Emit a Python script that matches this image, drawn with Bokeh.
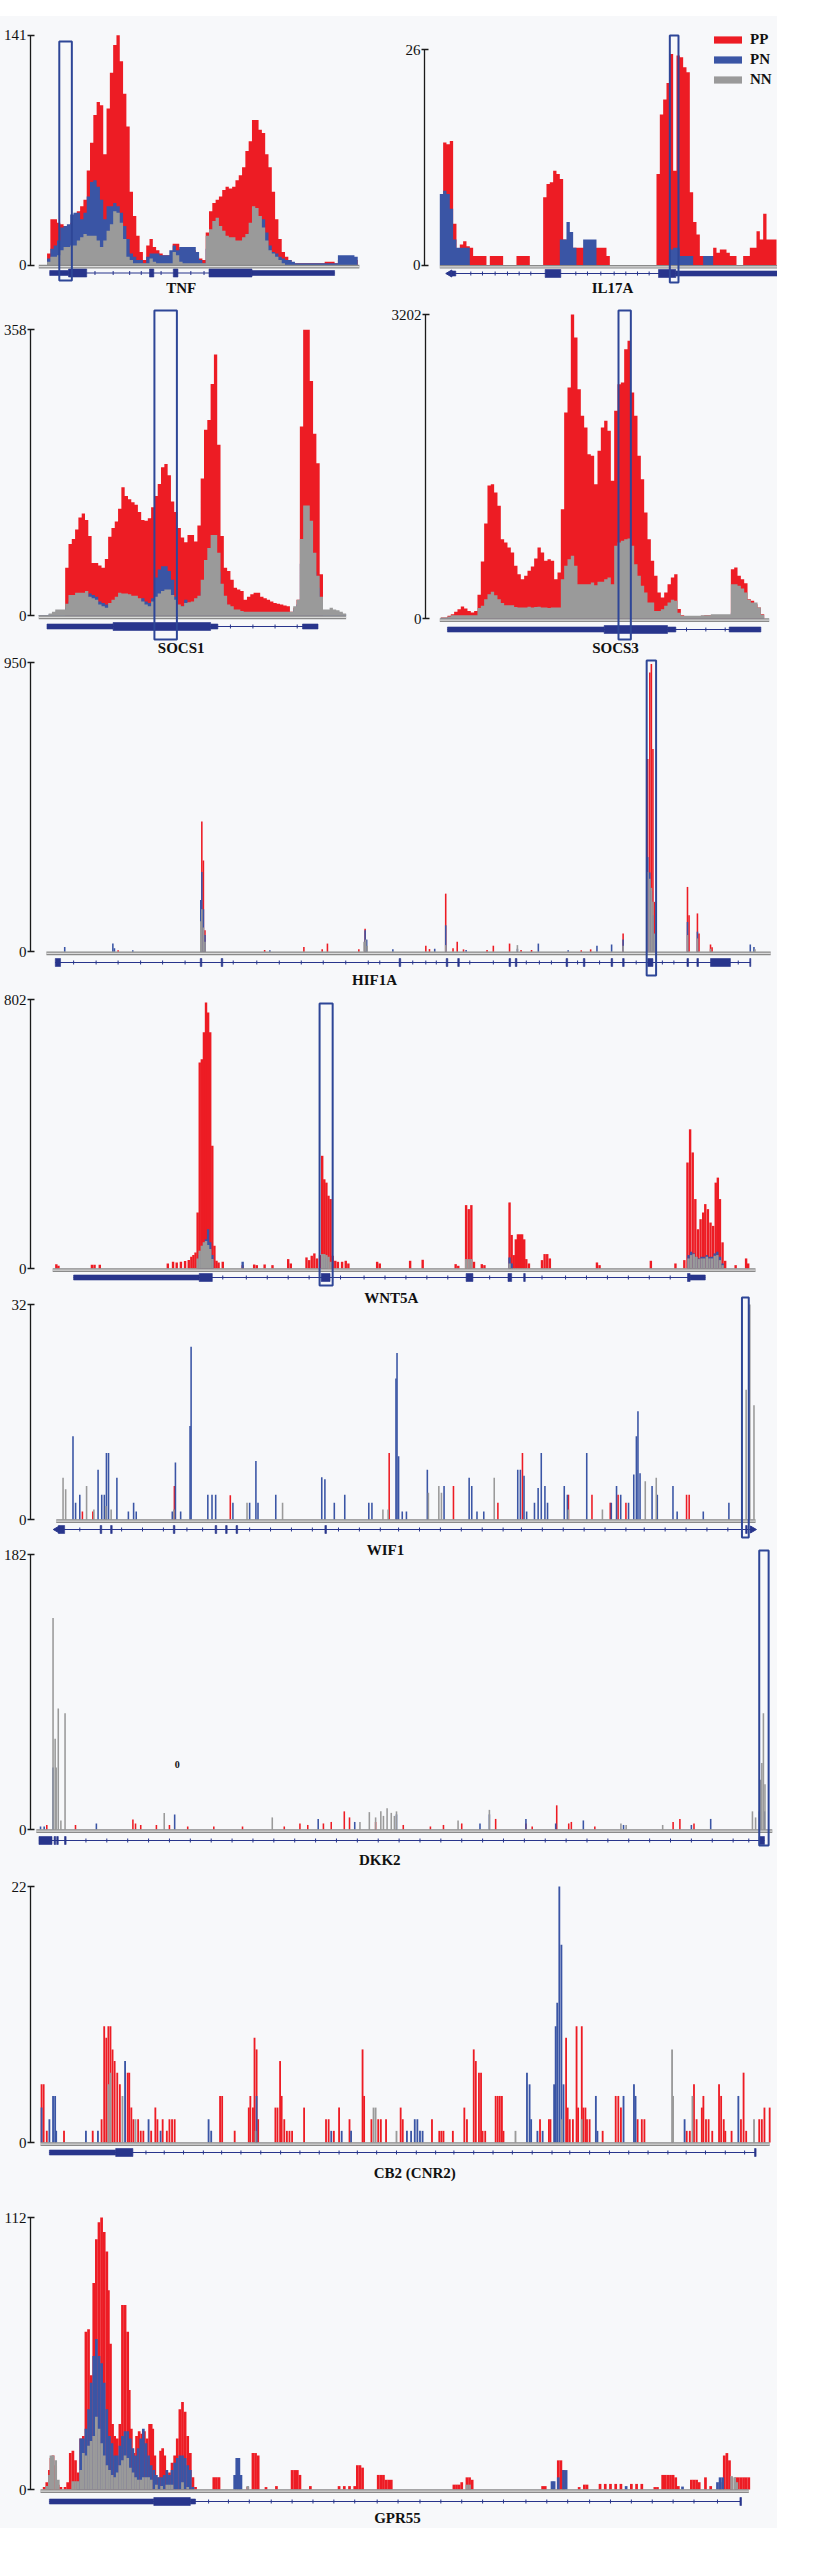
import numpy as np
from bokeh.plotting import figure
from bokeh.models import Range1d, FixedTicker, Legend, LegendItem, Spacer
from bokeh.layouts import column, row
from bokeh.core.properties import value
from bokeh.embed import file_html
from bokeh.resources import INLINE

RED = "#ed1c24"
BLUE = "#3a55a5"
GRAY = "#9a9a9a"
GENE = "#28358c"
BOXC = "#2e4697"
BG = "#f7f8fa"
FONT = "Liberation Serif"

SERIES = ["PP", "PN", "NN"]
GENES = ["TNF", "IL17A", "SOCS1", "SOCS3", "HIF1A", "WNT5A", "WIF1", "DKK2", "CB2 (CNR2)", "GPR55"]
AXIS_MAX = [141, 26, 358, 3202, 950, 802, 32, 182, 22, 112]

# ---------------- binned coverage (top panels) ----------------
TNF_PP = [7,28,28,26,25,24,24,26,30,33, 36,40,58,75,92,100,98,68,96,118, 135,141,125,105,85,45,30,18,8,3,
          12,16,11,9,7,6,6,6,13,13, 10,9,9,9,9,5,4,3,20,33, 38,40,42,46,48,47,48,52,55,60,
          70,76,89,89,83,81,68,60,45,28, 16,8,5,3,1,1,1,1,1,1, 1,1,1,1,2,2,2,1,3,3, 3,3,3,3]
TNF_PN = [4,10,12,15,23,24,25,31,32,32, 28,32,42,51,52,48,40,28,36,36, 38,36,32,24,16,7,5,3,3,1,
          5,7,7,7,6,6,6,9,12,9, 11,11,11,11,11,8,3,1,10,14, 18,20,18,16,14,13,13,12,12,13,
          15,20,28,30,30,28,20,12,8,7, 5,4,3,3,2,1,1,1,1,1, 1,1,1,1,1,1,1,1,6,6, 6,6,6,5]
TNF_NN = [2,5,5,6,9,11,11,12,12,15, 17,19,18,18,18,15,11,15,21,25, 33,32,26,16,5,3,1,1,1,1,
          1,4,2,1,1,1,1,1,8,6, 2,1,1,1,1,1,1,1,18,22, 27,29,24,21,18,17,17,15,15,17,
          19,26,36,35,30,23,15,9,7,5, 3,1,0,0,0,0,0,0,0,0, 0,0,0,0,0,0,0,0,0,0, 0,0,0,0]

IL17A_PP = [0,14.8,14.6,15.0,5,1.9,2.5,2.9,2.3,2.1, 1.1,1.1,1.1,1.1,0,1.1,1.1,1.1,1.1,0,
            0,0,0,1.1,1.1,1.1,1.1,0,0,0, 0,8.2,9.8,10.0,11.4,11.0,10.4,3.1,2.1,2.1,
            2.1,2.1,2.1,2.1,2.1,2.1,2.1,2.1,2.1,2.1, 1.1,0,0,0,0,0,0,0,0,0,
            0,0,0,0,0,11.0,18.2,20.0,22.0,25.5, 11.4,25.3,25.1,23.9,23.3,8.8,5.2,3.7,1.1,1.1,
            1.1,1.1,2.1,1.5,1.9,1.9,1.5,1.1,1.1,0, 0,1.1,1.1,2.1,2.1,4.1,3.1,6.2,3.1,3.1, 3.1]
IL17A_PN = [8.6,9.0,8.6,6.8,3.1,2.1,2.1,2.1,2.1,0, 0,0,0,0,0,0,0,0,0,0,
            0,0,0,0,0,0,0,0,0,0, 0,0,0,0,0,0,3.1,3.1,5.2,4.0,
            2.1,0,0,3.1,3.1,3.1,3.1,0,0,0, 0,0,0,0,0,0,0,0,0,0,
            0,0,0,0,0,0,0,0,0,1.9, 2.1,2.1,1.1,1.1,1.1,1.1,0,0,0,1.1,
            1.1,1.1,0,0,0,0,0,0,0,0, 0,0,0,0,0,0,0,0,0,0, 0]
IL17A_NN = [0] * 101  # no NN coverage anywhere in this window

SOCS1_PP = [0,0,0,0,0,0,0,0,60,90, 96,108,123,128,120,100,66,66,63,60, 71,99,110,118,134,161,150,146,142,139,
            130,120,119,122,136,150,165,186,190,176, 143,130,110,98,92,101,101,93,113,172,
            233,245,290,327,214,100,60,56,45,35, 33,31,20,24,27,29,29,24,22,20,
            18,16,15,14,13,12,5,10,20,237, 358,358,294,228,191,52,0,0,0,0, 0,0,0]
SOCS1_PN = [1,1,1,2,3,5,5,5,10,18, 18,20,20,20,24,28,26,24,18,16, 14,12,14,17,20,20,20,19,18,18,
            16,22,18,16,22,48,58,62,62,56, 45,24,10,12,20,12,13,15,18,30,
            50,60,70,70,55,28,18,10,8,6, 6,4,3,3,3,3,3,3,3,3,
            3,3,3,3,3,3,3,8,14,65, 95,95,80,55,35,17,5,5,7,5, 5,3,2]
SOCS1_NN = [1,1,1,3,5,8,8,8,15,26, 26,29,29,29,31,24,22,20,14,12, 10,16,20,24,29,28,28,27,25,25,
            22,18,14,12,18,24,28,31,33,33, 26,20,14,12,16,17,18,22,25,45,
            70,85,101,101,79,40,25,14,12,8, 8,6,5,5,5,5,5,5,5,5,
            5,5,5,5,5,5,5,12,20,96, 138,138,119,79,50,24,8,8,10,8, 7,5,3]

SOCS3_PP = [10,10,30,46,70,98,126,105,80,63, 80,250,600,1000,1400,1415,1327,1187,836,800,
            748,695,555,467,414,450,502,548,632,748, 695,607,625,607,414,485,1152,2170,2433,3202,
            2960,2415,2135,2012,1731,1713,1415,1766,2012,2082, 1977,1450,2187,2468,2486,2837,2925,2380,2135,1713,
            1468,1117,836,607,449,274,221,274,362,432, 467,100,35,21,21,21,21,21,28,35,
            35,30,28,28,28,28,28,520,537,449, 414,372,204,186,151,116,46]
SOCS3_PN = [5,5,10,15,15,15,15,15,15,15, 15,30,40,50,60,60,55,50,45,40,
            40,40,35,35,35,35,35,35,35,35, 35,35,35,35,35,35,60,80,90,90,
            80,60,55,55,55,55,55,55,60,60, 60,55,80,90,90,90,90,80,70,55,
            45,35,25,25,15,15,15,20,25,25, 25,10,8,8,8,8,8,8,8,8,
            8,10,10,10,10,10,10,60,60,55, 50,45,35,30,30,20,8]
SOCS3_NN = [10,10,20,35,35,35,35,35,35,35, 35,110,133,204,256,281,246,204,162,140,
            140,140,120,116,116,116,125,116,120,125, 116,116,110,116,116,116,414,555,625,660,
            555,362,362,362,362,379,351,386,386,414, 432,362,765,800,818,836,843,765,572,449,
            344,274,169,169,80,80,98,133,169,197, 186,60,28,28,28,28,28,28,35,35,
            35,46,46,46,46,46,46,362,362,344, 316,274,197,169,169,116,40]

# ---------------- (position, value) coverage (full-width panels) ----------------
HIF1A_PP = [(240,5),(400,428),(403,300),(406,71),(520,6),(595,16),(630,8),(640,27),(700,8),(712,76),
            (828,20),(835,9),(866,191),(880,12),(888,33),(900,8),(945,6),(957,20),(988,27),(1010,6),
            (1030,6),(1125,5),(1143,8),(1205,60),(1252,633),(1256,917),(1259,945),(1262,666),(1265,164),
            (1328,213),(1331,120),(1347,126),(1350,60),(1372,24),(1375,15)]
HIF1A_PN = [(138,16),(230,27),(233,12),(268,5),(398,170),(400,262),(403,140),(406,55),(530,5),(712,71),
            (715,40),(765,8),(845,10),(866,87),(905,6),(1003,10),(1043,27),(1100,5),(1155,20),(1183,24),
            (1205,40),(1252,311),(1256,260),(1259,200),(1262,120),(1328,98),(1347,66),(1448,24),(1455,16)]
HIF1A_NN = [(398,100),(400,140),(403,80),(406,33),(710,33),(713,40),(716,20),(866,22),(1003,22),(1205,20),
            (1252,262),(1256,240),(1259,210),(1262,164),(1265,60),(1328,55),(1347,44),(1372,10),(1457,8)]

WNT5A_PP = [(122,13),(126,8),(190,11),(195,11),(205,11),(335,15),(345,20),(352,18),(360,20),(368,22),
            (375,25),(380,35),(384,40),(388,48),(392,167),(396,614),(400,624),(404,704),(408,793),(412,763),
            (416,704),(420,366),(424,68),(428,23),(432,18),(440,20),(478,10),(500,12),(505,10),(520,12),
            (535,10),(565,28),(570,15),(600,33),(605,25),(610,38),(615,45),(620,30),(626,40),(630,336),
            (634,266),(638,256),(642,217),(646,207),(650,38),(655,23),(660,20),(668,20),(675,23),(680,15),
            (735,20),(740,15),(798,23),(822,26),(885,13),(890,8),(905,189),(910,177),(915,189),(920,20),
            (935,13),(940,10),(988,197),(992,100),(996,40),(1000,87),(1004,102),(1008,102),(1012,102),(1016,87),
            (1020,28),(1025,15),(1050,25),(1055,43),(1060,43),(1065,30),(1155,18),(1160,10),(1258,23),(1305,15),
            (1322,25),(1328,316),(1333,415),(1338,346),(1343,207),(1348,117),(1353,147),(1358,167),(1362,192),
            (1367,177),(1372,137),(1377,127),(1382,256),(1386,271),(1390,207),(1395,78),(1400,23),(1420,10),
            (1440,30),(1444,15)]
WNT5A_PN = [(396,40),(400,50),(404,70),(408,87),(412,117),(416,78),(420,40),(478,20),(630,35),(634,30),
            (638,30),(988,33),(992,15),(1330,40),(1335,50),(1340,45),(1345,35),(1350,30),(1355,35),(1360,35),
            (1365,40),(1370,35),(1375,35),(1380,45),(1385,50),(1390,35),(1395,15)]
WNT5A_NN = [(392,30),(396,53),(400,68),(404,78),(408,82),(412,70),(416,58),(420,28),(630,43),(634,43),
            (638,40),(642,35),(646,20),(905,28),(910,28),(915,28),(988,15),(1330,30),(1335,40),(1340,43),
            (1345,35),(1350,28),(1355,30),(1360,30),(1365,35),(1370,30),(1375,30),(1380,38),(1385,40),
            (1390,25),(1395,10)]

WIF1_PP = [(170,1.2),(190,1.2),(346,5.0),(453,3.6),(757,9.9),(880,5.0),(965,2.5),(1012,9.9),(1100,3.7),
           (1145,3.7),(1180,2.5),(1195,3.7),(1210,2.5),(1326,3.7),(1331,3.7)]
WIF1_PN = [(152,12.4),(157,2.5),(165,3.7),(200,7.4),(207,3.7),(212,3.7),(216,9.9),(220,9.9),(236,6.2),
           (258,1.2),(268,2.5),(273,1.2),(342,1.2),(348,8.5),(358,1.2),(376,13.9),(378,25.7),(410,3.7),
           (418,3.7),(425,3.7),(458,2.5),(490,2.5),(502,8.7),(506,2.5),(540,3.7),(628,6.3),(634,6.0),
           (652,2.5),(672,3.7),(718,2.5),(724,2.5),(770,21.0),(772,24.8),(775,9.4),(782,1.2),(790,1.2),
           (830,7.4),(862,5.0),(910,6.2),(915,5.0),(925,1.2),(938,1.2),(1003,7.4),(1008,7.4),(1015,6.5),
           (1020,1.2),(1035,2.5),(1042,4.7),(1048,9.9),(1055,5.0),(1060,2.5),(1092,5.0),(1098,3.7),
           (1135,9.9),(1182,2.5),(1192,5.0),(1200,3.7),(1215,2.5),(1225,6.7),(1230,12.4),(1233,16.1),
           (1237,6.9),(1260,5.0),(1270,3.7),(1300,5.0),(1308,1.2),(1358,1.2),(1407,2.5)]
WIF1_NN = [(133,6.2),(138,4.5),(178,5.0),(192,1.5),(215,2.0),(225,1.5),(345,1.5),(485,2.5),(553,2.5),
           (745,1.5),(755,1.5),(832,4.0),(852,5.0),(857,4.0),(958,6.2),(1100,1.5),(1165,1.5),(1247,5.7),
           (1268,6.2),(1440,19.3),(1447,32.0),(1455,17.0)]

DKK2_PP = [(100,3),(155,3),(265,6.6),(270,4),(280,3),(310,3),(335,3),(370,2),(420,2),(475,2),(555,2),
           (585,4),(600,3),(630,4),(645,5),(670,12),(680,8),(730,5),(783,3),(835,2),(860,3),(895,4),
           (960,7),(1018,4),(1030,2),(1077,16),(1100,4),(1105,5),(1150,2),(1300,5),(1313,7),(1340,4)]
DKK2_PN = [(88,2),(95,2),(112,41),(195,4),(345,10),(620,7),(690,5),(770,10),(930,4),(948,10),(1018,7),
           (1075,4),(1128,6),(1205,3),(1335,3),(1372,7),(1475,12)]
DKK2_NN = [(112,140),(116,60),(118,41),(122,80),(127,6),(135,77),(325,11),(532,8),(700,5),(718,11.5),
           (730,8),(740,12),(745,9),(752,14),(760,11),(766,9),(770,12),(888,6),(948,13),(1200,4),(1210,3),
           (1280,3),(1452,12),(1458,8),(1465,12),(1468,33),(1470,44),(1473,77),(1476,30)]
DKK2_NOTE = (350, 43, "0")

CB2_PP = [(90,5),(94,5),(100,1),(133,1),(188,1),(205,2),(210,10),(214,9),(218,10),(222,10),(226,8),(230,7),
          (235,6),(240,5),(255,6),(258,6),(262,3),(266,2),(275,2),(280,1),(285,1),(300,1),(308,3),(312,2),
          (322,2),(330,1),(335,2),(340,2),(345,2),(432,4),(436,4),(460,1),(487,3),(490,4),(495,3),(498,9),
          (502,8),(505,2),(538,3),(542,3),(547,7),(550,4),(555,2),(560,1),(565,1),(570,1),(593,3),(635,2),
          (640,2),(650,1),(660,3),(680,2),(705,8),(708,4),(722,2),(735,2),(740,2),(750,2),(778,3),(782,2),
          (838,2),(852,1),(856,1),(860,1),(878,1),(900,3),(905,2),(918,8),(922,7),(928,6),(932,6),(935,1),
          (940,1),(960,4),(964,4),(968,4),(972,4),(975,1),(1045,2),(1062,2),(1065,2),(1095,9),(1098,3),
          (1102,2),(1108,2),(1115,10),(1118,3),(1125,10),(1128,3),(1132,3),(1135,2),(1140,2),(1165,1),
          (1190,4),(1195,4),(1200,3),(1232,2),(1240,2),(1245,2),(1326,1),(1332,1),(1340,5),(1345,2),
          (1355,3),(1358,4),(1363,2),(1368,2),(1375,1),(1388,5),(1392,4),(1397,2),(1400,1),(1412,1),
          (1430,2),(1435,6),(1440,1),(1465,2),(1470,2),(1475,3),(1485,3)]
CB2_PN = [(90,3),(105,2),(112,4),(116,4),(118,1),(175,1),(198,1),(250,7),(295,2),(318,1),(410,2),(415,1),
          (502,4),(645,1),(665,1),(683,1),(790,1),(798,1),(805,2),(810,2),(815,1),(820,1),(1020,6),(1025,5),
          (1028,2),(1040,1),(1050,1),(1072,5),(1075,10),(1078,12),(1082,22),(1086,17),(1090,5),(1152,4),
          (1155,1),(1205,4),(1225,5),(1228,4),(1322,2),(1425,4)]
CB2_NN = [(218,5),(222,6),(245,4),(270,2),(500,1),(726,3),(730,3),(770,1),(998,1),(1087,2),(1125,2),
          (1298,8),(1300,4),(1337,4),(1455,2)]

GPR55_PP = [(95,1),(100,3),(105,8),(108,13),(112,14),(117,10),(122,2),(127,1),(135,1),(140,3),(145,15),
            (150,16),(155,12),(160,7),(165,21),(170,22),(175,65),(180,66),(185,47),(190,85),(195,103),
            (200,110),(205,112),(210,106),(215,98),(218,82),(222,60),(226,27),(230,22),(235,21),(240,27),
            (245,76),(250,76),(255,65),(258,41),(262,25),(267,15),(272,22),(277,24),(282,23),(287,24),
            (292,21),(297,27),(300,27),(303,25),(307,14),(312,5),(318,16),(322,17),(326,14),(330,6),(335,7),
            (340,11),(345,14),(350,21),(355,33),(360,36),(365,32),(370,22),(375,15),(380,5),(385,1),
            (420,5),(425,5),(430,5),(485,1),(495,15),(500,15),(505,14),(520,1),(540,1.4),(570,8),(575,8),
            (580,8),(585,6),(605,1.4),(660,1.4),(670,1.4),(680,1.4),(690,1.4),(695,10),(700,10),(705,9),
            (735,6),(740,6),(745,6),(750,4),(755,4),(760,4),(880,2),(885,2),(890,2),(895,3),(905,5),(910,5),
            (915,4),(1050,1.4),(1055,1.4),(1080,12),(1085,12),(1090,8),(1120,1),(1130,2),(1135,2),(1160,2.3),
            (1170,2.3),(1180,2.3),(1190,2.3),(1200,2.3),(1220,2.3),(1230,2.3),(1240,2.3),(1265,1),(1270,1),
            (1280,6),(1285,6),(1290,6),(1295,6),(1300,6),(1305,5),(1310,1.4),(1335,4),(1340,4),(1345,4),
            (1350,3),(1362,5),(1372,1.4),(1390,3),(1398,14),(1403,15),(1408,12),(1412,5),(1420,5),(1425,5),
            (1430,5),(1435,5),(1440,5),(1445,5)]
GPR55_PN = [(160,3),(165,21),(170,21),(175,25),(180,33),(185,44),(190,55),(195,62),(200,55),(205,52),
            (210,44),(215,33),(220,22),(225,19),(230,14),(235,14),(240,18),(245,22),(250,24),(255,24),
            (260,21),(265,17),(270,14),(275,17),(280,21),(285,25),(290,19),(295,14),(300,10),(305,8),
            (310,6),(315,5),(320,5),(325,6),(330,8),(335,6),(340,8),(345,11),(350,13),(355,14),(360,14),
            (365,13),(370,10),(375,8),(380,1),(460,6),(464,13),(468,13),(472,6),(1068,3.4),(1072,3.4),
            (1080,5),(1090,8),(1095,8),(1210,1.4),(1318,1.2),(1385,3),(1390,5),(1395,5)]
GPR55_NN = [(100,1.4),(105,6),(108,14),(112,14),(117,12),(122,4),(150,3.4),(155,3.4),(160,3.4),(165,8),
            (170,15),(175,14),(180,18),(185,20),(190,22),(195,30),(200,25),(205,19),(210,14),(215,10),
            (220,8),(225,6),(230,5),(235,7),(240,10),(245,12),(250,14),(255,13),(260,9),(265,7),(270,5),
            (275,4),(280,4),(285,5),(290,5),(295,5),(300,4),(310,2),(320,1.4),(330,2),(335,2),(340,2),
            (360,3),(370,1),(485,1.4),(905,2),(910,2),(1412,5.5),(1418,5),(1422,3)]

# ---------------- gene models ----------------
TNF_GENE = dict(span=(0.8, 87), utr=[(0.8, 6.5), (62, 87)], cds=[(6.5, 12), (31, 32.3), (38.2, 39.6), (49, 62)],
                ticks=[14.5, 20, 25, 28.5, 34.5, 43.5, 47.5], arrows=[])
IL17A_GENE = dict(span=(3.5, 101.3), utr=[(3.6, 4.8), (70.8, 101.3)], cds=[(31.6, 36.3), (65.6, 70.8)],
                  ticks=[9.3, 12.8, 16.6, 20.3, 23.8, 27.3, 40.8, 44.3, 48.3, 52.3, 55.8, 59.3, 62.8],
                  arrows=[(3.0, "left")])
SOCS1_GENE = dict(span=(2.5, 84.5), utr=[(2.5, 22.5), (52, 54.2), (79.8, 84.5)], cds=[(22.5, 52)],
                  ticks=[58, 64.8, 71.5, 78.2], arrows=[])
SOCS3_GENE = dict(span=(2, 96), utr=[(2, 49), (68, 70.5), (86.5, 96)], cds=[(49, 68)],
                  ticks=[73.7, 79.5, 85.3], arrows=[])
HIF1A_GENE = dict(span=(120, 1448), utr=[],
                  cds=[(120, 130), (397, 400), (437, 440), (777, 780), (867, 870), (889, 892), (987, 990),
                       (999, 1002), (1096, 1099), (1129, 1132), (1182, 1185), (1204, 1207), (1252, 1262),
                       (1327, 1330), (1346, 1349), (1372, 1410), (1447, 1449)],
                  ticks=[155, 198, 240, 283, 325, 368, 460, 505, 548, 590, 632, 675, 718, 740, 803, 828, 848,
                         912, 957, 1020, 1045, 1068, 1118, 1160, 1230, 1280, 1302, 1425], arrows=[])
WNT5A_GENE = dict(span=(155, 1362), utr=[(155, 395), (1333, 1362)],
                  cds=[(395, 420), (628, 645), (905, 918), (985, 992), (1015, 1018), (1328, 1333)],
                  ticks=[440, 485, 525, 565, 605, 665, 710, 750, 790, 830, 870, 950, 1050, 1095, 1135, 1175,
                         1215, 1255, 1295], arrows=[])
WIF1_GENE = dict(span=(122, 1452), utr=[],
                 cds=[(124, 136), (204, 207), (224, 227), (344, 347), (424, 427), (444, 447), (464, 467),
                      (634, 637), (1439, 1442)],
                 ticks=[165, 245, 285, 325, 370, 400, 490, 530, 570, 610, 660, 700, 740, 775, 815, 855, 895,
                        935, 975, 1010, 1050, 1090, 1130, 1170, 1210, 1245, 1285, 1325, 1365, 1405],
                 arrows=[(122, "left"), (1452, "right")])
DKK2_GENE = dict(span=(85, 1475), utr=[], cds=[(85, 110), (114, 117), (119, 122), (134, 137), (1465, 1475)],
                 ticks=[175, 215, 255, 295, 335, 375, 415, 455, 495, 535, 575, 615, 655, 695, 735, 775, 815,
                        855, 895, 935, 975, 1015, 1055, 1095, 1135, 1175, 1215, 1255, 1295, 1335, 1375, 1415,
                        1445], arrows=[])
CB2_GENE = dict(span=(105, 1458), utr=[(105, 232)], cds=[(232, 265), (1456, 1459)],
                ticks=[290, 325, 362, 400, 435, 472, 510, 548, 585, 622, 660, 695, 732, 770, 808, 845, 880,
                       918, 955, 992, 1030, 1068, 1102, 1140, 1178, 1215, 1252, 1290, 1325, 1362, 1400, 1437],
                arrows=[])
GPR55_GENE = dict(span=(105, 1430), utr=[(105, 305), (375, 385)], cds=[(305, 375), (1428, 1431)],
                  ticks=[410, 448, 488, 530, 570, 610, 650, 690, 733, 773, 815, 855, 895, 935, 975, 1018, 1058,
                         1098, 1140, 1180, 1220, 1260, 1300, 1340, 1385], arrows=[])

# highlighted windows (genomic x extents)
HIGHLIGHT = {"TNF": (3.7, 7.5), "IL17A": (69, 71.6), "SOCS1": (35, 41.8), "SOCS3": (53.3, 57),
             "HIF1A": (1250, 1268), "WNT5A": (625, 650), "WIF1": (1432, 1445), "DKK2": (1465, 1483)}

# ---------------- layout (pixels inside each figure; top = page y of figure top) ----------------
FULL_XA = ((0, -8.0), (1500, 777.0))
SPECS = {
    "TNF":   dict(top=24, w=384, h=282, border=27, xa=((0, 43.7), (94, 357.0)), pz=248.5, pm=18.7,
                  gene=256.5, label=271, lx=40.6, box=(25, 264), base=(-2.5, 94.5)),
    "IL17A": dict(top=24, w=393, h=282, border=40, xa=((0, 55.3), (101, 392.0)), pz=248.7, pm=33.3,
                  gene=257, label=271, lx=51.8, box=(19, 266), base=(0, 101.3), legend=(286, 209)),
    "SOCS1": dict(top=312, w=384, h=354, border=27, xa=((0, 35.3), (93, 345.3)), pz=311.3, pm=25.3,
                  gene=322, label=343, lx=43.1, box=(6, 335), base=(0, 93)),
    "SOCS3": dict(top=312, w=393, h=354, border=41, xa=((0, 56.3), (97, 379.7)), pz=314, pm=10,
                  gene=325, label=343, lx=52.4, box=(6, 335), base=(-0.3, 98.5)),
    "HIF1A": dict(top=660, w=777, h=338, border=30, xa=FULL_XA, pz=299.3, pm=10, gene=310, label=327,
                  lx=730, box=(8, 323), base=(103, 1487), bw=3),
    "WNT5A": dict(top=998, w=777, h=317, border=30, xa=FULL_XA, pz=278, pm=9, gene=287, label=307,
                  lx=762, box=(13, 295), base=(115, 1458), bw=4.6),
    "WIF1":  dict(top=1302, w=777, h=265, border=29, xa=FULL_XA, pz=225, pm=10, gene=235, label=255,
                  lx=750, box=(3, 243), base=(120, 1458), bw=3),
    "DKK2":  dict(top=1552, w=777, h=326, border=28, xa=FULL_XA, pz=285, pm=10, gene=296, label=315,
                  lx=738, box=(6, 301), base=(80, 1490), bw=3),
    "CB2 (CNR2)": dict(top=1884, w=777, h=307, border=28, xa=FULL_XA, pz=266, pm=10, gene=276, label=296,
                  lx=805, base=(88, 1485), bw=3.5),
    "GPR55": dict(top=2215, w=777, h=321, border=28, xa=FULL_XA, pz=282, pm=10, gene=294, label=310,
                  lx=772, base=(88, 1445), bw=5.2),
}

DATA = {
    "TNF": ("step", [TNF_PP, TNF_PN, TNF_NN], TNF_GENE),
    "IL17A": ("step", [IL17A_PP, IL17A_PN, IL17A_NN], IL17A_GENE),
    "SOCS1": ("step", [SOCS1_PP, SOCS1_PN, SOCS1_NN], SOCS1_GENE),
    "SOCS3": ("step", [SOCS3_PP, SOCS3_PN, SOCS3_NN], SOCS3_GENE),
    "HIF1A": ("spike", [HIF1A_PP, HIF1A_PN, HIF1A_NN], HIF1A_GENE),
    "WNT5A": ("spike", [WNT5A_PP, WNT5A_PN, WNT5A_NN], WNT5A_GENE),
    "WIF1": ("spike", [WIF1_PP, WIF1_PN, WIF1_NN], WIF1_GENE),
    "DKK2": ("spike", [DKK2_PP, DKK2_PN, DKK2_NN], DKK2_GENE),
    "CB2 (CNR2)": ("spike", [CB2_PP, CB2_PN, CB2_NN], CB2_GENE),
    "GPR55": ("spike", [GPR55_PP, GPR55_PN, GPR55_NN], GPR55_GENE),
}


def build(name, vmax):
    spec = SPECS[name]
    mode, series, gene = DATA[name]
    W, H, B = spec["w"], spec["h"], spec["border"]
    (d0, a0), (d1, a1) = spec["xa"]
    sx = (a1 - a0) / (d1 - d0)
    pz, pm = spec["pz"], spec["pm"]
    sy = (pz - pm) / vmax

    def yv(py):
        return (pz - py) / sy

    p = figure(width=W, height=H,
               x_range=Range1d(d0 + (B - a0) / sx, d0 + (W - a0) / sx),
               y_range=Range1d(yv(H), yv(0)),
               min_border_left=B, min_border_right=0, min_border_top=0, min_border_bottom=0,
               x_axis_location=None, y_axis_location="left",
               toolbar_location=None, tools="", output_backend="svg",
               background_fill_color=None, border_fill_color=None, outline_line_color=None)
    p.grid.visible = False
    ax = p.yaxis[0]
    ax.ticker = FixedTicker(ticks=[0, vmax])
    ax.bounds = (0, vmax)
    ax.major_label_text_font = FONT
    ax.major_label_text_font_size = "15px"
    ax.major_label_text_color = "#111111"
    ax.major_label_standoff = 1
    ax.axis_line_color = "#1a1a1a"
    ax.axis_line_width = 1.3
    ax.major_tick_line_color = "#1a1a1a"
    ax.major_tick_line_width = 1.3
    ax.major_tick_in = 4
    ax.major_tick_out = 3
    ax.minor_tick_line_color = None

    rends = []
    for vals, color in zip(series, [RED, BLUE, GRAY]):
        if mode == "step":
            v = np.asarray(vals, dtype=float)
            edges = np.arange(len(v) + 1, dtype=float)
            xs = np.repeat(edges, 2)[1:-1]
            ys = np.repeat(v, 2)
            r = p.varea(x=xs, y1=0, y2=ys, fill_color=color)
        else:
            xs = [a for a, b in vals]
            ys = [b for a, b in vals]
            r = p.vbar(x=xs, top=ys, bottom=0, width=spec["bw"], fill_color=color, line_color=None)
        rends.append(r)

    # baseline (double grey rule)
    b0, b1 = spec["base"]
    yb = yv(pz + 1.6)
    p.segment(x0=[b0], x1=[b1], y0=[yb], y1=[yb], line_color="#8a8a8a", line_width=3.6)
    p.segment(x0=[b0], x1=[b1], y0=[yb], y1=[yb], line_color="#dadada", line_width=1.2)

    # gene model
    gy = spec["gene"]
    yg = yv(gy)
    s0, s1 = gene["span"]
    p.segment(x0=[s0], x1=[s1], y0=[yg], y1=[yg], line_color=GENE, line_width=1.2)
    if gene["ticks"]:
        p.scatter(x=gene["ticks"], y=[yg] * len(gene["ticks"]), marker="dash", size=4, angle=np.pi / 2,
                  line_color=GENE, line_width=1)
    for key, hpx in (("utr", 5), ("cds", 8)):
        blocks = gene[key]
        if blocks:
            p.quad(left=[a for a, b in blocks], right=[b for a, b in blocks],
                   bottom=yv(gy + hpx / 2), top=yv(gy - hpx / 2),
                   fill_color=GENE, line_color=GENE, line_width=0.6)
    for ax_x, direction in gene["arrows"]:
        p.scatter(x=[ax_x], y=[yg], marker="triangle", size=7,
                  angle=(np.pi / 2 if direction == "left" else -np.pi / 2),
                  fill_color=GENE, line_color=GENE)

    # gene name
    p.text(x=[spec["lx"]], y=[yv(spec["label"])], text=[name], text_font=value(FONT),
           text_font_style="bold", text_font_size="15px", text_align="center",
           text_baseline="middle", text_color="#111111")

    # highlighted window
    if name in HIGHLIGHT:
        h0, h1 = HIGHLIGHT[name]
        t, b = spec["box"]
        p.quad(left=[h0], right=[h1], top=[yv(t)], bottom=[yv(b)], fill_color=None,
               line_color=BOXC, line_width=2)

    if name == "DKK2":
        nx, ny, nt = DKK2_NOTE
        p.text(x=[nx], y=[ny], text=[nt], text_font=value(FONT), text_font_style="bold",
               text_font_size="10px", text_align="center", text_baseline="middle", text_color="#111111")

    if "legend" in spec:
        lg = Legend(items=[LegendItem(label=l, renderers=[r]) for l, r in zip(SERIES, rends)],
                    location=spec["legend"], orientation="vertical",
                    glyph_width=35, glyph_height=9, label_height=20, label_standoff=5,
                    spacing=0, padding=0, margin=0,
                    label_text_font=FONT, label_text_font_style="bold", label_text_font_size="15px",
                    label_text_color="#111111",
                    background_fill_alpha=0, border_line_color=None)
        p.add_layout(lg)
    return p


figs = {n: build(n, m) for n, m in zip(GENES, AXIS_MAX)}

# stack blocks vertically at their page positions (negative margins let label areas overlap)
blocks = [
    (row(figs["TNF"], figs["IL17A"]), SPECS["TNF"]),
    (row(figs["SOCS1"], figs["SOCS3"]), SPECS["SOCS1"]),
    (figs["HIF1A"], SPECS["HIF1A"]),
    (figs["WNT5A"], SPECS["WNT5A"]),
    (figs["WIF1"], SPECS["WIF1"]),
    (figs["DKK2"], SPECS["DKK2"]),
    (figs["CB2 (CNR2)"], SPECS["CB2 (CNR2)"]),
    (figs["GPR55"], SPECS["GPR55"]),
]
children = []
cursor = 24
for obj, spec in blocks:
    obj.margin = (int(spec["top"] - cursor), 0, 0, 0)
    cursor = spec["top"] + spec["h"]
    children.append(obj)

panel_stack = column(*children, styles={"background-color": BG})
layout = column(Spacer(width=777, height=16), panel_stack)

open("out.html", "w").write(file_html(layout, INLINE))
